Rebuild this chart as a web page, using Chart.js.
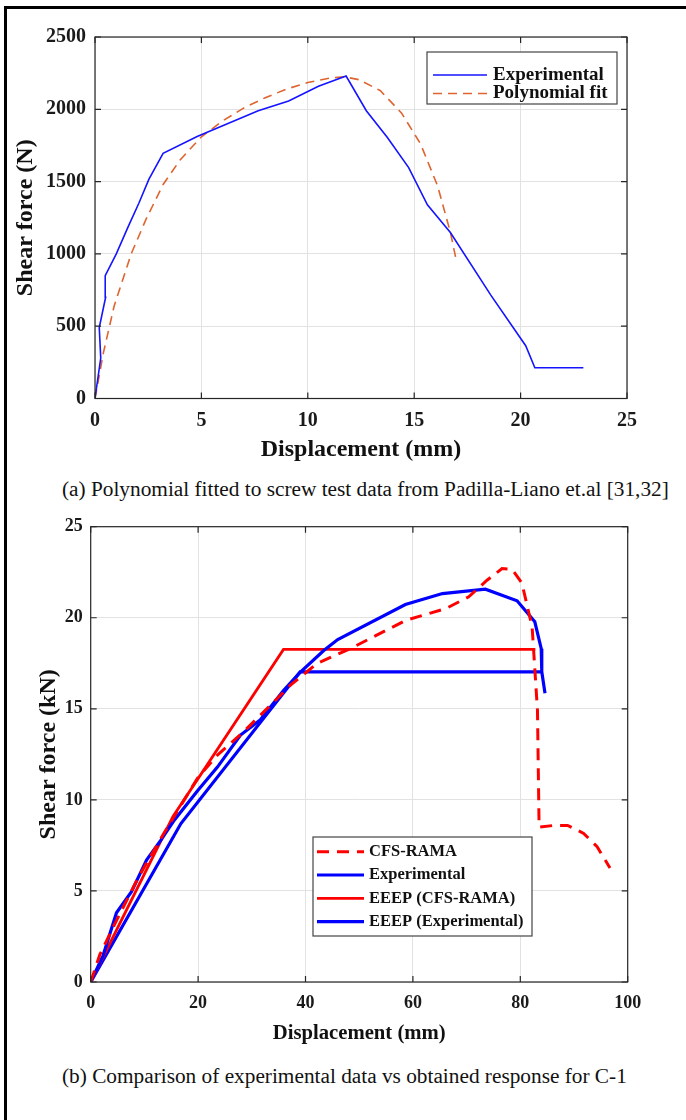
<!DOCTYPE html>
<html>
<head>
<meta charset="utf-8">
<script src="https://cdn.jsdelivr.net/npm/chart.js@4.4.1/dist/chart.umd.min.js"></script>
<style>
  body { margin: 0; background: #fff; width: 686px; height: 1120px; overflow: hidden; position: relative; font-family: "Liberation Serif", "Times New Roman", serif; }
  .frame { position: absolute; left: 4px; top: 6px; width: 720px; height: 1200px; border-left: 3px solid #000; border-top: 3px solid #000; }
  canvas { position: absolute; left: 0; }
  #topChart { top: 0; }
  #botChart { top: 505px; }
  .caption { position: absolute; font-size: 21.3px; line-height: 22px; color: #111; white-space: nowrap; }
</style>
</head>
<body>
<div class="frame"></div>
<canvas id="topChart" width="686" height="470"></canvas>
<div class="caption" style="left:62px; top:478px;">(a) Polynomial fitted to screw test data from Padilla-Liano et.al [31,32]</div>
<canvas id="botChart" width="686" height="545"></canvas>
<div class="caption" style="left:62px; top:1065px;">(b) Comparison of experimental data vs obtained response for C-1</div>
<script>
// (a) screw test, force in N vs displacement in mm
const topExpX = [0, 0.27, 0.2, 0.5, 0.48, 1.0, 1.55, 2.06, 2.53, 3.2, 4.8, 7.67, 9.1, 10.5, 11.8, 12.75, 13.74, 14.74, 15.62, 16.7, 18.6, 20.24, 20.67, 22.95];
const topExpY = [0, 280, 490, 700, 850, 1000, 1185, 1350, 1515, 1695, 1812, 1990, 2058, 2160, 2230, 1990, 1805, 1597, 1340, 1148, 715, 365, 213, 213];
const topFitX = [0, 0.4, 0.9, 1.7, 2.4, 3.2, 4.0, 5.0, 6.0, 7.0, 8.0, 9.0, 10.0, 11.0, 11.7, 12.4, 13.4, 14.4, 15.3, 16.1, 16.7, 17.0];
const topFitY = [0, 320, 640, 1000, 1240, 1480, 1650, 1810, 1920, 2010, 2080, 2140, 2185, 2215, 2225, 2205, 2130, 1975, 1760, 1470, 1150, 940];

// (b) C-1, force in kN vs displacement in mm
const ramaX = [0, 1.7, 4.5, 8.8, 13.8, 19.9, 23.6, 28.5, 33.5, 37.2, 42.2, 48.3, 58.7, 66.1, 70.4, 73.8, 76.6, 78.5, 80.3, 82.2, 83.2, 83.5, 86.3, 88.8, 91.8, 94.3, 96.7];
const ramaY = [0, 1.5, 3.2, 5.7, 8.25, 11.2, 12.46, 13.75, 15.2, 16.3, 17.5, 18.3, 19.86, 20.5, 21.15, 22.06, 22.7, 22.65, 21.9, 19.5, 14.9, 8.5, 8.6, 8.6, 8.16, 7.43, 6.26];
const expX = [0, 2.3, 4.8, 7.6, 10.4, 13.1, 15.6, 19.9, 23.6, 27.9, 31.6, 35.9, 39.0, 43.4, 46.0, 58.6, 65.5, 73.5, 79.4, 82.7, 83.9, 84.0, 84.6];
const expY = [0, 1.45, 3.8, 4.96, 6.7, 7.8, 8.9, 10.5, 11.8, 13.56, 14.4, 16.0, 17.0, 18.2, 18.8, 20.73, 21.33, 21.57, 20.93, 19.78, 18.3, 17.03, 15.85];
const eeepRamaX = [0, 15.3, 35.9, 82.8];
const eeepRamaY = [0, 9.07, 18.26, 18.26];
const eeepExpX = [0, 16.8, 39.0, 84.0];
const eeepExpY = [0, 8.7, 17.03, 17.03];

function pts(xs, ys) {
	return xs.map((x, i) => ({ x: x, y: ys[i] }));
}

const serif = '"Liberation Serif", "Times New Roman", serif';

// MATLAB style box, inward ticks and a boxed legend
const matlabBox = {
	id: 'matlabBox',
	afterDraw(chart, args, opts) {
		const { ctx, chartArea: a, scales: { x, y } } = chart;
		ctx.save();
		ctx.strokeStyle = '#262626';
		ctx.lineWidth = 1.2;
		ctx.strokeRect(a.left, a.top, a.width, a.height);
		ctx.beginPath();
		x.ticks.forEach(t => {
			const p = x.getPixelForValue(t.value);
			ctx.moveTo(p, a.bottom); ctx.lineTo(p, a.bottom - 6);
			ctx.moveTo(p, a.top); ctx.lineTo(p, a.top + 6);
		});
		y.ticks.forEach(t => {
			const p = y.getPixelForValue(t.value);
			ctx.moveTo(a.left, p); ctx.lineTo(a.left + 6, p);
			ctx.moveTo(a.right, p); ctx.lineTo(a.right - 6, p);
		});
		ctx.stroke();

		const lg = opts.legend;
		ctx.fillStyle = '#fff';
		ctx.fillRect(lg.left, lg.top, lg.width, lg.height);
		ctx.strokeStyle = '#444';
		ctx.lineWidth = 1.2;
		ctx.strokeRect(lg.left, lg.top, lg.width, lg.height);
		chart.data.datasets.forEach((ds, i) => {
			const cy = lg.top + lg.first + i * lg.row;
			ctx.strokeStyle = ds.borderColor;
			ctx.lineWidth = ds.borderWidth;
			ctx.setLineDash(ds.borderDash || []);
			ctx.beginPath();
			ctx.moveTo(lg.left + lg.pad, cy);
			ctx.lineTo(lg.left + lg.pad + lg.line, cy);
			ctx.stroke();
			ctx.setLineDash([]);
			ctx.fillStyle = '#111';
			ctx.font = lg.font;
			ctx.textBaseline = 'middle';
			ctx.fillText(ds.label, lg.left + lg.textX, cy);
		});
		ctx.restore();
	}
};

function axis(min, max, step, o) {
	return {
		type: 'linear',
		min: min,
		max: max,
		ticks: { stepSize: step, padding: o.pad, color: '#1a1a1a', format: { useGrouping: false }, font: { family: serif, size: o.tickSize, weight: 'bold' } },
		grid: { color: '#e2e2e2', lineWidth: 1, drawTicks: false },
		border: { display: false },
		title: { display: true, text: o.title, color: '#111', font: { family: serif, size: o.titleSize, weight: 'bold' }, padding: o.titlePad },
		afterFit: function(s) { s[o.dim] = o.size; }
	};
}

function lineSet(label, xs, ys, color, width, dash) {
	return {
		label: label,
		data: pts(xs, ys),
		showLine: true,
		borderColor: color,
		backgroundColor: color,
		borderWidth: width,
		borderDash: dash,
		pointRadius: 0,
		tension: 0
	};
}

new Chart(document.getElementById('topChart').getContext('2d'), {
	type: 'scatter',
	data: {
		datasets: [
			lineSet('Experimental', topExpX, topExpY, 'rgb(20,20,255)', 1.6, []),
			lineSet('Polynomial fit', topFitX, topFitY, 'rgb(222,100,48)', 1.6, [9, 6])
		]
	},
	plugins: [matlabBox],
	options: {
		responsive: false,
		animation: false,
		layout: { padding: { left: 10, right: 59, top: 37, bottom: 0 } },
		scales: {
			x: axis(0, 25, 5, { pad: 10, tickSize: 20, title: 'Displacement (mm)', titleSize: 24, titlePad: { top: 0, bottom: 5.6 }, dim: 'height', size: 71.5 }),
			y: axis(0, 2500, 500, { pad: 9, tickSize: 20, title: 'Shear force (N)', titleSize: 24, titlePad: { top: 1.8, bottom: 0 }, dim: 'width', size: 85 })
		},
		plugins: {
			legend: { display: false },
			tooltip: { enabled: false },
			matlabBox: { legend: { left: 427, top: 52, width: 190, height: 52, first: 23, row: 18.5, pad: 6, line: 54, textX: 66, font: 'bold 19px ' + serif } }
		}
	}
});

new Chart(document.getElementById('botChart').getContext('2d'), {
	type: 'scatter',
	data: {
		datasets: [
			lineSet('CFS-RAMA', ramaX, ramaY, '#ff0000', 3, [12, 8]),
			lineSet('Experimental', expX, expY, '#0000ff', 3.2, []),
			lineSet('EEEP (CFS-RAMA)', eeepRamaX, eeepRamaY, '#ff0000', 2.8, []),
			lineSet('EEEP (Experimental)', eeepExpX, eeepExpY, '#0000ff', 3.2, [])
		]
	},
	plugins: [matlabBox],
	options: {
		responsive: false,
		animation: false,
		layout: { padding: { left: 8, right: 58.3, top: 21.7, bottom: 0 } },
		scales: {
			x: axis(0, 100, 20, { pad: 11, tickSize: 18, title: 'Displacement (mm)', titleSize: 20.7, titlePad: { top: 0, bottom: 4 }, dim: 'height', size: 68 }),
			y: axis(0, 25, 5, { pad: 8, tickSize: 18, title: 'Shear force (kN)', titleSize: 24, titlePad: { top: 26.6, bottom: 0 }, dim: 'width', size: 82.7 })
		},
		plugins: {
			legend: { display: false },
			tooltip: { enabled: false },
			matlabBox: { legend: { left: 313, top: 332, width: 219, height: 99, first: 14.7, row: 23.3, pad: 4, line: 47, textX: 56, font: 'bold 16.5px ' + serif } }
		}
	}
});
</script>
</body>
</html>
